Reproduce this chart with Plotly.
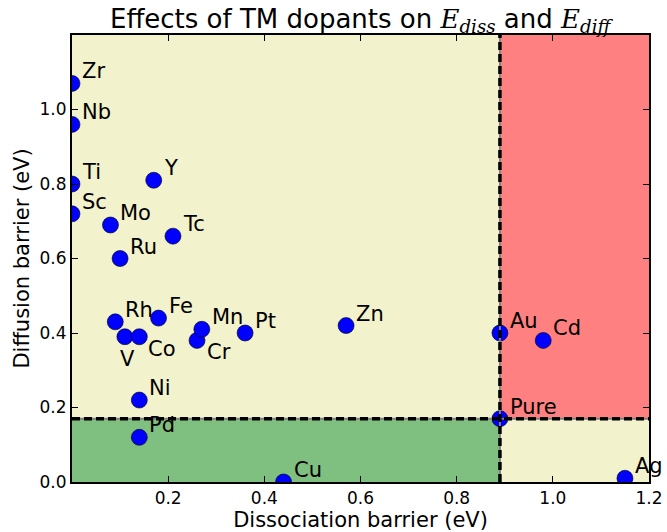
import plotly.graph_objects as go

# ---- data ----
elements = ["Zr", "Nb", "Ti", "Sc", "Mo", "Ru", "Y", "Tc", "Rh", "V", "Co", "Fe",
            "Cr", "Mn", "Pt", "Zn", "Ni", "Pd", "Cu", "Au", "Cd", "Pure", "Ag"]
diss_barrier = [0.0, 0.0, 0.0, 0.0, 0.08, 0.10, 0.17, 0.21, 0.09, 0.11, 0.14, 0.18,
                0.26, 0.27, 0.36, 0.57, 0.14, 0.14, 0.44, 0.89, 0.98, 0.89, 1.15]
diff_barrier = [1.07, 0.96, 0.80, 0.72, 0.69, 0.60, 0.81, 0.66, 0.43, 0.39, 0.39, 0.44,
                0.38, 0.41, 0.40, 0.42, 0.22, 0.12, 0.00, 0.40, 0.38, 0.17, 0.01]
pure_diss = 0.89
pure_diff = 0.17
x_ticks = [0.2, 0.4, 0.6, 0.8, 1.0, 1.2]
y_ticks = [0.0, 0.2, 0.4, 0.6, 0.8, 1.0]
x_range = [0, 1.2]
y_range = [0, 1.2]

# label placement (pixels) for labels not at the default upper-right spot
special_offsets = {"V": (3, -22, "center"), "Co": (7, -12, "left"), "Cr": (8, -12, "left")}
default_offset = (8, 12, "left")

fig = go.Figure()

fig.add_trace(go.Scatter(
    x=diss_barrier, y=diff_barrier, mode="markers",
    marker=dict(color="#0000ff", size=16, line=dict(color="black", width=0.6)),
    hoverinfo="text", text=elements, showlegend=False,
))

yellow = "#f2f2cc"
red = "#ff8080"
green = "#7fbf7f"

shapes = [
    dict(type="rect", xref="x", yref="y", x0=pure_diss, x1=x_range[1], y0=pure_diff, y1=y_range[1],
         fillcolor=red, line=dict(width=0), layer="below"),
    dict(type="rect", xref="x", yref="y", x0=x_range[0], x1=pure_diss, y0=y_range[0], y1=pure_diff,
         fillcolor=green, line=dict(width=0), layer="below"),
    dict(type="line", xref="x", yref="y", x0=pure_diss, x1=pure_diss, y0=y_range[0], y1=y_range[1],
         line=dict(color="gray", width=2), layer="above"),
    dict(type="line", xref="x", yref="y", x0=x_range[0], x1=x_range[1], y0=pure_diff, y1=pure_diff,
         line=dict(color="gray", width=2), layer="above"),
    dict(type="line", xref="x", yref="y", x0=pure_diss, x1=pure_diss, y0=y_range[0], y1=y_range[1],
         line=dict(color="black", width=3.5, dash="8px,4px"), layer="above"),
    dict(type="line", xref="x", yref="y", x0=x_range[0], x1=x_range[1], y0=pure_diff, y1=pure_diff,
         line=dict(color="black", width=3.5, dash="8px,4px"), layer="above"),
]

annotations = []
for name, xv, yv in zip(elements, diss_barrier, diff_barrier):
    dx, dy, anc = special_offsets.get(name, default_offset)
    annotations.append(dict(
        x=xv, y=yv, xref="x", yref="y", text=name, showarrow=False,
        xanchor=anc, yanchor="middle", xshift=dx, yshift=dy,
        font=dict(family="DejaVu Sans", size=21, color="black"),
    ))

emath = '<span style="font-family:\'DejaVu Serif\'"><i>E</i></span>'
title_text = ("Effects of TM dopants on " + emath +
              '<sub><span style="font-family:\'DejaVu Serif\'"><i>diss</i></span></sub> and ' + emath +
              '<sub><span style="font-family:\'DejaVu Serif\'"><i>diff</i></span></sub>')

axis_common = dict(
    showgrid=False, zeroline=False, showline=True, linecolor="black", linewidth=2,
    mirror="allticks", ticks="inside", ticklen=6, tickwidth=1, tickcolor="black",
    tickfont=dict(family="DejaVu Sans", size=17, color="black"), automargin=False,
)

fig.update_layout(
    width=667, height=532,
    margin=dict(l=72, r=18, t=35, b=50),
    paper_bgcolor="white", plot_bgcolor=yellow,
    shapes=shapes, annotations=annotations,
    title=dict(text=title_text, x=0.54, xanchor="center", y=0.965, yanchor="middle",
               font=dict(family="DejaVu Sans", size=26, color="black")),
    xaxis=dict(range=x_range, tickvals=x_ticks, ticktext=[f"{v:.1f}" for v in x_ticks],
               title=dict(text="Dissociation barrier (eV)", standoff=4,
                          font=dict(family="DejaVu Sans", size=21, color="black")),
               **axis_common),
    yaxis=dict(range=y_range, tickvals=y_ticks, ticktext=[f"{v:.1f}" for v in y_ticks],
               title=dict(text="Diffusion barrier (eV)", standoff=4,
                          font=dict(family="DejaVu Sans", size=21, color="black")),
               **axis_common),
)

fig.write_html("out.html")
